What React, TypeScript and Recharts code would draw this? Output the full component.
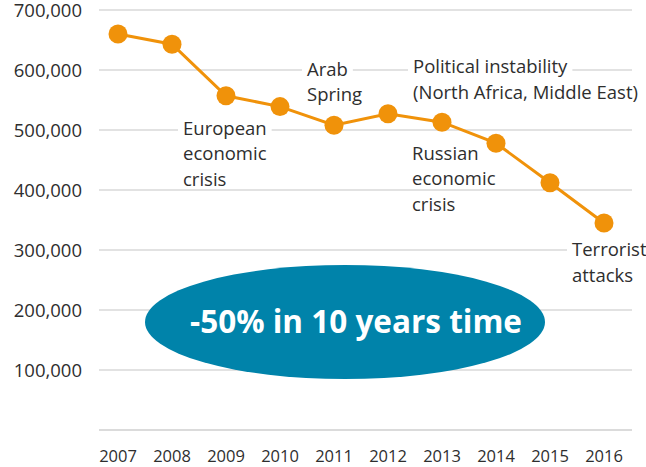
import React, { useLayoutEffect, useRef, useState } from 'react';
import { LineChart, Line, XAxis, YAxis, CartesianGrid, ReferenceDot } from 'recharts';

const years = ['2007', '2008', '2009', '2010', '2011', '2012', '2013', '2014', '2015', '2016'];
const visitors = [660000, 643000, 557000, 539000, 508000, 527000, 513000, 478000, 412000, 345000];
const yTicks = [0, 100000, 200000, 300000, 400000, 500000, 600000, 700000];

const annotationLines = [
  ['European', 'economic', 'crisis'],
  ['Arab', 'Spring'],
  ['Political instability', '(North Africa, Middle East)'],
  ['Russian', 'economic', 'crisis'],
  ['Terrorist', 'attacks'],
];
const annotationYears = ['2009', '2011', '2013', '2013', '2016'];
const annotationValues = [503000, 601000, 605000, 461000, 300000];
const annotationDx = [-43, -27, -29, -30, -32];

const calloutText = '-50% in 10 years time';
const calloutYear = '2011';
const calloutValue = 180000;

const data = years.map((y, i) => ({ year: y, value: visitors[i] }));

const FONT = '"Open Sans", "Noto Sans", sans-serif';
const ORANGE = '#f0920a';
const TEXT = '#2e2e2e';
const LINE_GAP = 25.5;

const fmt = (v: number) => (v === 0 ? '' : v.toLocaleString('en-US'));

function Annotation({ cx, cy, lines, dx }: { cx: number; cy: number; lines: string[]; dx: number }) {
  const refs = useRef<(SVGTextElement | null)[]>([]);
  const [widths, setWidths] = useState<number[]>([]);
  useLayoutEffect(() => {
    const w = refs.current.map((r) => (r ? r.getComputedTextLength() : 0));
    if (w.join(',') !== widths.join(',')) setWidths(w);
  });
  if (cx == null || cy == null) return null;
  return (
    <g>
      {lines.map((l, i) => {
        const y = cy + i * LINE_GAP;
        return (
          <g key={i}>
            {widths[i] ? (
              <rect x={cx + dx - 5} y={y - 11} width={widths[i] + 10} height={20} fill="#ffffff" />
            ) : null}
            <text
              ref={(el) => {
                refs.current[i] = el;
              }}
              x={cx + dx}
              y={y}
              dy="0.35em"
              fill={TEXT}
              fontSize={18.5}
              fontFamily={FONT}
            >
              {l}
            </text>
          </g>
        );
      })}
    </g>
  );
}

const makeAnnotation = (lines: string[], dx: number) => (props: any) => (
  <Annotation cx={props.cx} cy={props.cy} lines={lines} dx={dx} />
);

const Callout = (props: any) => {
  const { cx, cy } = props;
  return (
    <g>
      <ellipse cx={cx + 11} cy={cy} rx={200} ry={57} fill="#0083aa" />
      <text
        x={cx + 22}
        y={cy}
        dy="0.35em"
        textAnchor="middle"
        fill="#ffffff"
        fontSize={31.5}
        fontWeight={700}
        fontFamily={FONT}
      >
        {calloutText}
      </text>
    </g>
  );
};

export default function App() {
  return (
    <div style={{ position: 'absolute', left: 0, top: 0, width: 646, height: 467, background: '#ffffff' }}>
      <LineChart width={646} height={467} data={data} margin={{ top: 10, right: 14, bottom: 0, left: 0 }}>
        <CartesianGrid vertical={false} stroke="#d9d9d9" strokeWidth={1.5} />
        <XAxis
          dataKey="year"
          padding={{ left: 19, right: 28 }}
          axisLine={{ stroke: '#d9d9d9', strokeWidth: 1.5 }}
          tickLine={false}
          tickMargin={14}
          height={37}
          interval={0}
          tick={{ fill: TEXT, fontSize: 16.5, fontFamily: FONT }}
        />
        <YAxis
          width={99}
          domain={[0, 700000]}
          ticks={yTicks}
          tickFormatter={fmt}
          axisLine={false}
          tickLine={false}
          tickMargin={11}
          tick={{ fill: TEXT, fontSize: 18.5, fontFamily: FONT }}
        />
        {annotationLines.map((lines, i) => (
          <ReferenceDot
            key={i}
            x={annotationYears[i]}
            y={annotationValues[i]}
            ifOverflow="visible"
            zIndex={300}
            shape={makeAnnotation(lines, annotationDx[i])}
          />
        ))}
        <ReferenceDot x={calloutYear} y={calloutValue} ifOverflow="visible" zIndex={300} shape={Callout} />
        <Line
          type="linear"
          dataKey="value"
          stroke={ORANGE}
          strokeWidth={3}
          dot={{ r: 9.5, fill: ORANGE, stroke: 'none' }}
          activeDot={false}
          isAnimationActive={false}
        />
      </LineChart>
    </div>
  );
}
